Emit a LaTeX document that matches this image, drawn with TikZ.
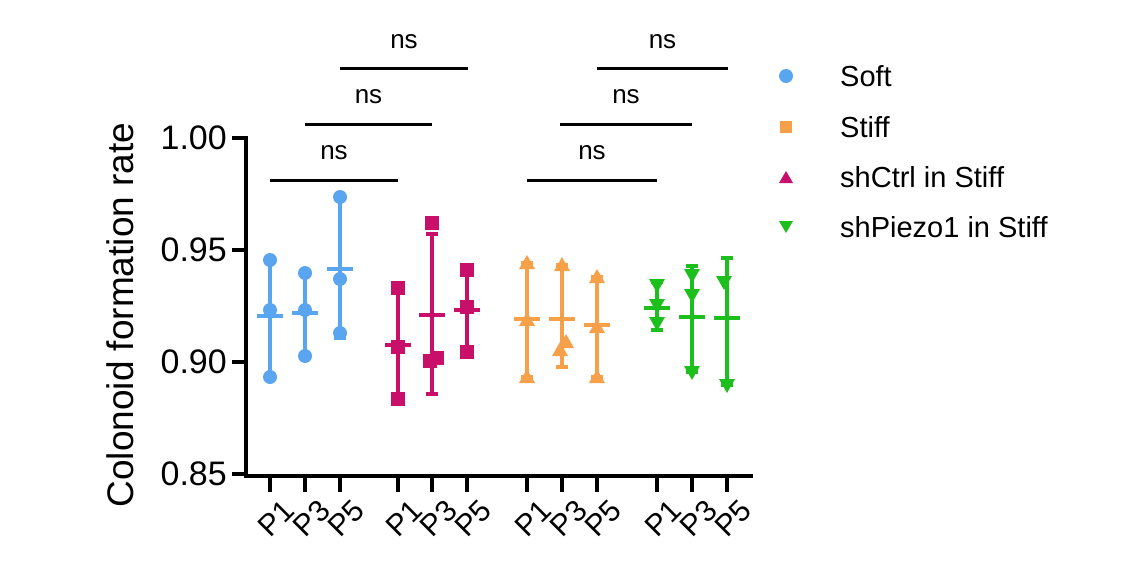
\documentclass[tikz,border=0pt]{standalone}
\usepackage{fontspec}
\setmainfont{Liberation Sans}
\begin{document}
\begin{tikzpicture}[x=1pt,y=-1pt,
  ax/.style={line width=3.5pt},
  eb/.style={line width=3.5pt},
  sig/.style={line width=3pt},
  lbl/.style={font=\fontsize{26}{28}\selectfont},
  leg/.style={font=\fontsize{29}{31}\selectfont},
  tl/.style={font=\fontsize{34}{36}\selectfont},
  xt/.style={font=\fontsize{30}{32}\selectfont}]
\definecolor{colB}{HTML}{5AA5F0}
\definecolor{colM}{HTML}{C8106A}
\definecolor{colO}{HTML}{F7A04A}
\definecolor{colG}{HTML}{1CBF1C}
\useasboundingbox (0,0) rectangle (1131,567);
\newcommand{\mcirc}[3]{\fill[#1] (#2,#3) circle (7);}
\newcommand{\msq}[3]{\fill[#1] (#2-7,#3-7) rectangle (#2+7,#3+7);}
\newcommand{\mup}[3]{\fill[#1] (#2-8,#3+6) -- (#2+8,#3+6) -- (#2,#3-8) -- cycle;}
\newcommand{\mdn}[3]{\fill[#1] (#2-8,#3-6) -- (#2+8,#3-6) -- (#2,#3+8) -- cycle;}
\newcommand{\ebar}[5]{\draw[eb,#1] (#2,#3) -- (#2,#4); \draw[eb,#1] (#2-6,#3) -- (#2+6,#3); \draw[eb,#1] (#2-6,#4) -- (#2+6,#4); \draw[eb,#1] (#2-13,#5) -- (#2+13,#5);}
% axes
\draw[ax] (246,136) -- (246,476) -- (753,476);
\foreach \yy/\t in {138/1.00,250/0.95,362/0.90,474/0.85}{
  \draw[ax] (232,\yy) -- (246,\yy);
  \node[tl,anchor=east,inner sep=2pt] (yl\yy) at (229,\yy) {\t};}
\node[font=\fontsize{37}{39}\selectfont,rotate=90] (ylab) at (120,315) {Colonoid formation rate};
\foreach \xx in {270,305,340,398,432,467,527,562,597,657,692,727}{
  \draw[ax] (\xx,476) -- (\xx,492);}
\foreach \xx/\t [count=\i] in {270/P1,305/P3,340/P5,398/P1,432/P3,467/P5,527/P1,562/P3,597/P5,657/P1,692/P3,727/P5}{
  \node[xt,rotate=45,anchor=north east,inner sep=1pt] (xl\i) at (\xx+12,496) {\t};}
% blue
\ebar{colB}{270}{260}{377}{316}
\mcirc{colB}{270}{260}\mcirc{colB}{270}{310}\mcirc{colB}{270}{377}
\ebar{colB}{305}{273}{356}{313}
\mcirc{colB}{305}{273}\mcirc{colB}{305}{310}\mcirc{colB}{305}{356}
\ebar{colB}{340}{197}{338}{269}
\mcirc{colB}{340}{197}\mcirc{colB}{340}{279}\mcirc{colB}{340}{333}
% magenta
\ebar{colM}{398}{288}{399}{345}
\msq{colM}{398}{288}\msq{colM}{398}{347}\msq{colM}{398}{399}
\ebar{colM}{432}{234}{394}{315}
\msq{colM}{432}{223}\msq{colM}{430}{361}\msq{colM}{437}{358}
\ebar{colM}{467}{270}{352}{310}
\msq{colM}{467}{270}\msq{colM}{467}{307}\msq{colM}{467}{352}
% orange
\ebar{colO}{527}{263}{377}{319}
\mup{colO}{527}{263}\mup{colO}{527}{320}\mup{colO}{527}{377}
\ebar{colO}{562}{265}{367}{319}
\mup{colO}{562}{265}\mup{colO}{560}{350}\mup{colO}{566}{342}
\ebar{colO}{597}{277}{377}{325}
\mup{colO}{597}{277}\mup{colO}{597}{327}\mup{colO}{597}{377}
% green
\ebar{colG}{657}{282}{330}{308}
\mdn{colG}{657}{285}\mdn{colG}{657}{305}\mdn{colG}{657}{323}
\ebar{colG}{692}{266}{372}{317}
\mdn{colG}{692}{275}\mdn{colG}{692}{295}\mdn{colG}{692}{372}
\ebar{colG}{727}{258}{385}{318}
\mdn{colG}{724}{282}\mdn{colG}{727}{385}
% significance
\foreach \a/\b/\yy in {270/398/180,305/432/124,340/468/69,527/657/180,560/692/124,597/728/69}{
  \draw[sig] (\a,\yy) -- (\b,\yy);
  \node[lbl] at ({(\a+\b)/2},\yy-27) {ns};}
% legend
\mcirc{colB}{786}{76}
\fill[colO] (780,121) rectangle (792,133);
\fill[colM] (779,183) -- (793,183) -- (786,171) -- cycle;
\fill[colG] (779,221) -- (793,221) -- (786,233) -- cycle;
\node[leg,anchor=west,inner sep=1pt] (l1) at (839,76) {Soft};
\node[leg,anchor=west,inner sep=1pt] (l2) at (839,127) {Stiff};
\node[leg,anchor=west,inner sep=1pt] (l3) at (839,177) {shCtrl in Stiff};
\node[leg,anchor=west,inner sep=1pt] (l4) at (839,227) {shPiezo1 in Stiff};
\end{tikzpicture}
\end{document}
